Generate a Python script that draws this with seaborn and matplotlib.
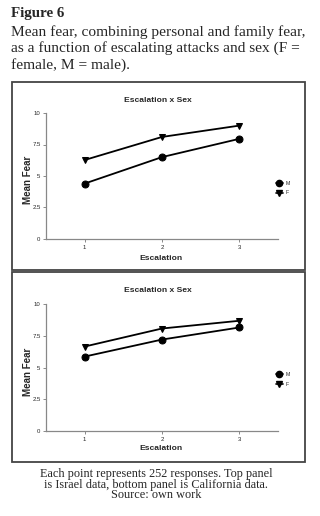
import matplotlib
matplotlib.use("Agg")
import matplotlib.pyplot as plt
import seaborn as sns
import pandas as pd
from matplotlib.patches import Rectangle
from matplotlib.lines import Line2D

escalation = [1, 2, 3]
israel_m = [4.4, 6.5, 7.95]
israel_f = [6.27, 8.1, 9.0]
california_m = [5.86, 7.2, 8.15]
california_f = [6.65, 8.07, 8.68]
sexes = ["M", "F"]
yticks = [0, 2.5, 5, 7.5, 10]
ytick_labels = ["0", "2.5", "5", "7.5", "10"]

sns.set_theme(style="white")
plt.rcParams["font.family"] = ["Liberation Sans", "DejaVu Sans"]

fig = plt.figure(figsize=(3.2, 5.16), dpi=100)
W, H = 320, 516


def fx(px):
    return px / W


def fy(py):
    return 1 - py / H


serif = ["Liberation Serif", "DejaVu Serif"]
fig.text(fx(11), fy(13), "Figure 6", fontsize=10.8, fontweight="bold",
         family=serif, va="center", ha="left")
header = ["Mean fear, combining personal and family fear,",
          "as a function of escalating attacks and sex (F =",
          "female, M = male)."]
for i, line in enumerate(header):
    fig.text(fx(11), fy(32 + 16.5 * i), line, fontsize=11.1, family=serif,
             va="center", ha="left")

caption = ["Each point represents 252 responses. Top panel",
           "is Israel data, bottom panel is California data.",
           "Source: own work"]
for i, line in enumerate(caption):
    fig.text(fx(156), fy(474.5 + 10.5 * i), line, fontsize=8.8, family=serif,
             va="center", ha="center")

# panel boxes
for (y0, y1) in [(82, 270), (272, 462)]:
    fig.patches.append(Rectangle((fx(12), fy(y1)), fx(305) - fx(12), fy(y0) - fy(y1),
                                 transform=fig.transFigure, fill=False,
                                 edgecolor="#444444", linewidth=1.3))

panels = [
    (israel_m, israel_f, 113, 239, 100, 258),
    (california_m, california_f, 304, 431, 291, 449),
]

for m_vals, f_vals, top, bottom, title_y, xlab_y in panels:
    ax = fig.add_axes([fx(46), fy(bottom), fx(278) - fx(46), fy(top) - fy(bottom)])
    df = pd.DataFrame({
        "Escalation": escalation * 2,
        "Mean Fear": m_vals + f_vals,
        "Sex": ["M"] * 3 + ["F"] * 3,
    })
    sns.lineplot(data=df, x="Escalation", y="Mean Fear", hue="Sex", style="Sex",
                 markers={"M": "o", "F": "v"}, dashes=False,
                 palette={"M": "black", "F": "black"}, linewidth=1.3,
                 markersize=5, markeredgecolor="black", ax=ax, legend=False)
    ax.set_xlim(0.5, 3.5)
    ax.set_ylim(0, 10)
    ax.set_xticks(escalation)
    ax.set_xticklabels([str(v) for v in escalation])
    ax.set_yticks(yticks)
    ax.set_yticklabels(ytick_labels)
    ax.tick_params(axis="both", which="major", labelsize=4.3, length=2,
                   width=0.6, color="#777777", direction="out", pad=2,
                   left=True, bottom=True)
    for s in ["top", "right"]:
        ax.spines[s].set_visible(False)
    for s in ["left", "bottom"]:
        ax.spines[s].set_color("#888888")
        ax.spines[s].set_linewidth(0.9)
    ax.set_xlabel("")
    ax.set_ylabel("")
    fig.text(fx(28), fy((top + bottom) / 2 + 4), "Mean Fear", fontsize=7,
             fontweight="bold", rotation=90, ha="center", va="center")
    fig.text(fx(158), fy(title_y), "Escalation x Sex", fontsize=6.1,
             fontweight="bold", ha="center", va="center")
    fig.text(fx(161), fy(xlab_y), "Escalation", fontsize=6.1,
             fontweight="bold", ha="center", va="center")
    handles = [Line2D([], [], color="black", marker="o", markersize=4.5, linewidth=1.2),
               Line2D([], [], color="black", marker="v", markersize=4.5, linewidth=1.2)]
    leg_y = (top + bottom) / 2 + 12
    ax.legend(handles, sexes, loc="center left",
              bbox_to_anchor=(fx(273), fy(leg_y)), bbox_transform=fig.transFigure,
              frameon=False, fontsize=3.8, handlelength=1.4, handletextpad=0.5,
              labelspacing=0.9, borderpad=0)

fig.savefig("out.png", dpi=100)
